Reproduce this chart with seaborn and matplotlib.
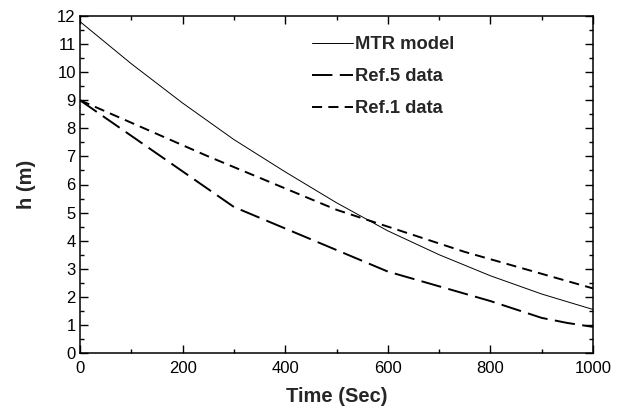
import matplotlib
matplotlib.use("Agg")
import matplotlib.pyplot as plt
import numpy as np
import pandas as pd
import seaborn as sns
from matplotlib.ticker import MultipleLocator

# values
mtr_time = [0, 100, 200, 300, 400, 500, 600, 700, 800, 900, 1000]
mtr_h = [11.8, 10.3, 8.9, 7.6, 6.45, 5.35, 4.35, 3.5, 2.75, 2.1, 1.55]

ref5_time = [0, 300, 600, 800, 900, 950, 1000]
ref5_h = [9.0, 5.2, 2.9, 1.85, 1.25, 1.07, 0.93]

ref1_time = [0, 250, 500, 750, 1000]
ref1_h = [9.0, 7.0, 5.1, 3.6, 2.3]

series = [
    ("MTR model", mtr_time, mtr_h),
    ("Ref.5 data", ref5_time, ref5_h),
    ("Ref.1 data", ref1_time, ref1_h),
]

sns.set_theme(style="ticks")
plt.rcParams["font.family"] = ["Liberation Sans", "DejaVu Sans"]

fig = plt.figure(figsize=(6.24, 4.17), dpi=100)
ax = fig.add_axes([80 / 624, 64 / 417, 513 / 624, 337 / 417])

widths = {"MTR model": 0.7, "Ref.5 data": 1.4, "Ref.1 data": 1.4}
dash_map = {"MTR model": None, "Ref.5 data": (10.5, 3.8), "Ref.1 data": (5.2, 3.2)}

for name, t, h in series:
    df = pd.DataFrame({"t": t, "h": h})
    sns.lineplot(data=df, x="t", y="h", ax=ax, color="black",
                 linewidth=widths[name], label=name, legend=False)
    if dash_map[name] is not None:
        ax.lines[-1].set_dashes(dash_map[name])

ax.set_xlim(0, 1000)
ax.set_ylim(0, 12)
ax.xaxis.set_major_locator(MultipleLocator(200))
ax.xaxis.set_minor_locator(MultipleLocator(100))
ax.yaxis.set_major_locator(MultipleLocator(1))
ax.yaxis.set_minor_locator(MultipleLocator(0.5))
ax.tick_params(which="both", direction="in", top=True, right=True,
               colors="black", labelsize=12, width=1.0)
ax.tick_params(which="major", length=5.5)
ax.tick_params(which="minor", length=3)
ax.tick_params(axis="x", pad=6)
ax.tick_params(axis="y", pad=3)
for sp in ax.spines.values():
    sp.set_linewidth(1.1)
    sp.set_color("black")

ax.set_xlabel("Time (Sec)", fontsize=14.5, fontweight="bold", labelpad=8)
ax.set_ylabel("h (m)", fontsize=14.5, fontweight="bold", labelpad=15)

ax.legend(loc="upper left", bbox_to_anchor=(0.452, 0.94), frameon=False,
          prop={"size": 13.2, "weight": "bold"}, handlelength=2.25,
          handletextpad=0.1, labelspacing=0.82, borderpad=0, borderaxespad=0)

fig.savefig("out.png", dpi=100)
